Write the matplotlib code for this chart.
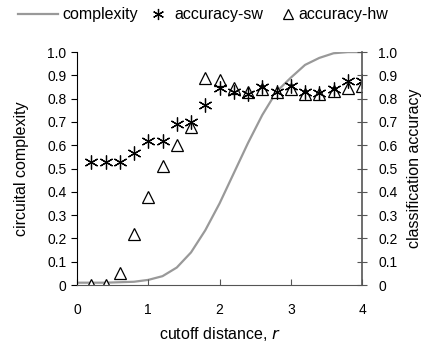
import matplotlib.pyplot as plt
from matplotlib.lines import Line2D

# cutoff distance r
r = [0.2, 0.4, 0.6, 0.8, 1.0, 1.2, 1.4, 1.6, 1.8, 2.0,
     2.2, 2.4, 2.6, 2.8, 3.0, 3.2, 3.4, 3.6, 3.8, 4.0]
r_cx = [0.0] + r

complexity = [0.01, 0.01, 0.01, 0.012, 0.014, 0.022, 0.038, 0.075, 0.14, 0.235, 0.35,
              0.48, 0.61, 0.73, 0.83, 0.89, 0.945, 0.975, 0.995, 1.0, 1.0]
acc_sw = [0.53, 0.53, 0.53, 0.565, 0.62, 0.62, 0.69, 0.70, 0.775, 0.845,
          0.83, 0.82, 0.85, 0.83, 0.855, 0.83, 0.825, 0.84, 0.875, 0.875]
acc_hw = [0.0, 0.0, 0.05, 0.22, 0.38, 0.51, 0.60, 0.68, 0.89, 0.88,
          0.845, 0.83, 0.84, 0.83, 0.84, 0.82, 0.82, 0.835, 0.845, 0.855]

yticks = [i / 10 for i in range(11)]
ylabels = ['0'] + ['%.1f' % v for v in yticks[1:]]

plt.rcParams['font.family'] = ['Liberation Sans', 'DejaVu Sans']
fig = plt.figure(figsize=(4.31, 3.52), dpi=100)
ax = fig.add_axes([0.1787, 0.1903, 0.6613, 0.6617])

star = (6, 2, 0)
ax.plot(r_cx, complexity, color='#999999', lw=1.6, zorder=1)
ax.plot(r, acc_hw, ls='none', marker='^', ms=9, mfc='white', mec='black', mew=0.9, zorder=2)
ax.plot(r, acc_sw, ls='none', marker=star, ms=10, mec='black', mew=0.9, zorder=3)

ax.set_xlim(0, 4)
ax.set_ylim(0, 1.0)
ax.set_xticks([0, 1, 2, 3, 4])
ax.set_yticks(yticks)
ax.set_yticklabels(ylabels)
ax.spines['top'].set_visible(False)
ax.spines['right'].set_visible(False)
ax.spines['left'].set_color('black')
ax.spines['bottom'].set_color('#555555')
ax.tick_params(axis='y', direction='out', length=4, labelsize=10, colors='black')
ax.tick_params(axis='x', direction='in', length=4, labelsize=10, pad=13, color='#555555')
ax.set_ylabel('circuital complexity', fontsize=11.5, labelpad=13)
ax.set_xlabel('cutoff distance, $r$', fontsize=11.5, labelpad=6)

ax2 = ax.twinx()
ax2.set_ylim(0, 1.0)
ax2.set_yticks(yticks)
ax2.set_yticklabels(ylabels)
for s in ['top', 'left', 'bottom']:
    ax2.spines[s].set_visible(False)
ax2.spines['right'].set_color('#555555')
ax2.spines['right'].set_linewidth(1.2)
ax2.tick_params(axis='y', direction='inout', length=7, labelsize=10, pad=8, color='#555555')
ax2.set_ylabel('classification accuracy', fontsize=11.5, labelpad=7)

# legend entries placed one by one so each can have its own handle size
entries = [
    (Line2D([], [], color='#999999', lw=1.6), 'complexity', 18, 2.5, 0.3),
    (Line2D([], [], ls='none', marker=star, ms=8, mec='black', mew=0.9), 'accuracy-sw', 150, 1.0, 0.5),
    (Line2D([], [], ls='none', marker='^', ms=7, mfc='white', mec='black', mew=0.9), 'accuracy-hw', 280, 1.0, 0.15),
]
for h, lab, x0, hl, tp in entries:
    fig.legend([h], [lab], loc='center left', bbox_to_anchor=(x0 / 431, 1 - 15 / 352),
               frameon=False, fontsize=11.5, handlelength=hl, handletextpad=tp,
               borderpad=0, borderaxespad=0)

fig.savefig('out.png', dpi=100)
